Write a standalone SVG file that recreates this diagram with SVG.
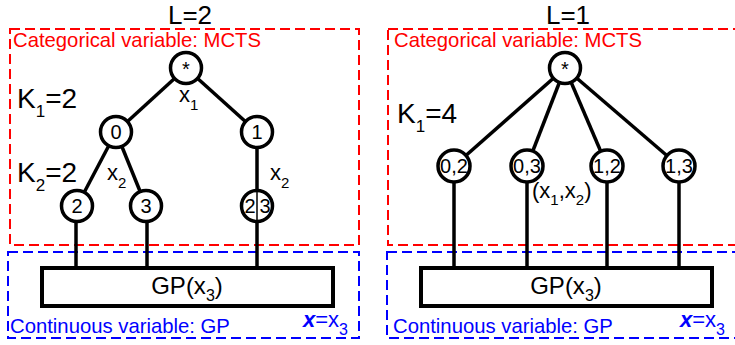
<svg xmlns="http://www.w3.org/2000/svg" width="735" height="345" viewBox="0 0 735 345">
<style>
text{font-family:"Liberation Sans",Arial,sans-serif;fill:#000}
.node{fill:#fff;stroke:#000;stroke-width:3.5}
.edge{stroke:#000;stroke-width:3.5;fill:none}
.gp{fill:#fff;stroke:#000;stroke-width:4}
.red{fill:none;stroke:#f00;stroke-width:2;stroke-dasharray:10 5}
.blue{fill:none;stroke:#00f;stroke-width:2;stroke-dasharray:10 5}
.rt{fill:#f00;font-size:20.3px}
.bt{fill:#00f;font-size:20.3px}
.nl{font-size:20px;text-anchor:middle}
.big{font-size:28px}
.ttl{font-size:26px;text-anchor:middle}
.lab{font-size:22px}
</style>
<rect width="735" height="345" fill="#fff"/>

<!-- region boxes -->
<g id="regions">
<rect class="red" x="10" y="29" width="349" height="216"/>
<rect class="blue" x="8" y="252" width="351" height="86"/>
<rect class="red" x="388" y="29" width="352" height="216"/>
<rect class="blue" x="387" y="252" width="353" height="86"/>
</g>

<!-- connectors -->
<g id="connectors">
<line class="edge" x1="186" y1="68" x2="116" y2="132"/>
<line class="edge" x1="186" y1="68" x2="257" y2="132"/>
<line class="edge" x1="116" y1="132" x2="77" y2="206"/>
<line class="edge" x1="116" y1="132" x2="146" y2="206"/>
<line class="edge" x1="257" y1="132" x2="257" y2="206"/>
<line class="edge" x1="76" y1="206" x2="76" y2="268"/>
<line class="edge" x1="147" y1="206" x2="147" y2="268"/>
<line class="edge" x1="257" y1="206" x2="257" y2="268"/>

<line class="edge" x1="565" y1="68" x2="454" y2="166"/>
<line class="edge" x1="565" y1="68" x2="527" y2="166"/>
<line class="edge" x1="565" y1="68" x2="607" y2="166"/>
<line class="edge" x1="565" y1="68" x2="679" y2="166"/>
<line class="edge" x1="454" y1="166" x2="454" y2="268"/>
<line class="edge" x1="527" y1="166" x2="527" y2="268"/>
<line class="edge" x1="607" y1="166" x2="607" y2="268"/>
<line class="edge" x1="679" y1="166" x2="679" y2="268"/>
</g>

<!-- left panel -->
<g id="title-left"><text class="ttl" x="190" y="23.5">L=2</text></g>
<g id="label-cat-left"><text class="rt" x="13" y="47">Categorical variable: MCTS</text></g>
<g id="label-k1-left"><text class="big" x="17" y="108">K<tspan font-size="17" dy="9">1</tspan><tspan dy="-9">=2</tspan></text></g>
<g id="label-k2-left"><text class="big" x="17" y="182">K<tspan font-size="17" dy="9">2</tspan><tspan dy="-9">=2</tspan></text></g>

<g id="node-root-left"><circle class="node" cx="186" cy="68" r="15.5"/><text class="nl" x="186" y="76">*</text></g>
<g id="node-0"><circle class="node" cx="116" cy="132" r="15.5"/><text class="nl" x="116" y="139">0</text></g>
<g id="node-1"><circle class="node" cx="257" cy="132" r="15.5"/><text class="nl" x="257" y="139">1</text></g>
<g id="node-2"><circle class="node" cx="77" cy="206" r="15.5"/><text class="nl" x="77" y="213">2</text></g>
<g id="node-3"><circle class="node" cx="146" cy="206" r="15.5"/><text class="nl" x="146" y="213">3</text></g>
<g id="node-23"><circle class="node" cx="257" cy="206" r="15.5"/><line x1="257" y1="191" x2="257" y2="221" stroke="#000" stroke-width="1.5"/><text class="nl" x="250" y="213">2</text><text class="nl" x="265" y="213">3</text></g>

<g id="edge-label-x1"><text class="lab" x="179" y="102">x<tspan font-size="15" dy="8">1</tspan></text></g>
<g id="edge-label-x2-left"><text class="lab" x="107" y="180">x<tspan font-size="15" dy="8">2</tspan></text></g>
<g id="edge-label-x2-right"><text class="lab" x="270" y="180">x<tspan font-size="15" dy="8">2</tspan></text></g>

<g id="gp-left"><rect class="gp" x="42" y="268" width="291" height="38"/><text x="187" y="294" font-size="24" text-anchor="middle">GP(x<tspan font-size="16" dy="7">3</tspan><tspan dy="-7">)</tspan></text></g>
<g id="label-cont-left"><text class="bt" x="10" y="333">Continuous variable: GP</text></g>
<g id="label-x-left"><text x="303" y="327" font-size="22" style="fill:#00f"><tspan font-weight="bold" font-style="italic">x</tspan>=x<tspan font-size="16" dy="8">3</tspan></text></g>

<!-- right panel -->
<g id="title-right"><text class="ttl" x="568" y="23.5">L=1</text></g>
<g id="label-cat-right"><text class="rt" x="394" y="47">Categorical variable: MCTS</text></g>
<g id="label-k1-right"><text class="big" x="397" y="123">K<tspan font-size="17" dy="9">1</tspan><tspan dy="-9">=4</tspan></text></g>

<g id="node-root-right"><circle class="node" cx="565" cy="68" r="15.5"/><text class="nl" x="565" y="76">*</text></g>
<g id="node-02"><circle class="node" cx="454" cy="166" r="16"/><text class="nl" x="454" y="173" font-size="19">0,2</text></g>
<g id="node-03"><circle class="node" cx="527" cy="166" r="16"/><text class="nl" x="527" y="173" font-size="19">0,3</text></g>
<g id="node-12"><circle class="node" cx="607" cy="166" r="16"/><text class="nl" x="607" y="173" font-size="19">1,2</text></g>
<g id="node-13"><circle class="node" cx="679" cy="166" r="16"/><text class="nl" x="679" y="173" font-size="19">1,3</text></g>

<g id="edge-label-x1x2"><text class="lab" x="532" y="198">(x<tspan font-size="15" dy="7">1</tspan><tspan dy="-7">,x</tspan><tspan font-size="15" dy="7">2</tspan><tspan dy="-7">)</tspan></text></g>

<g id="gp-right"><rect class="gp" x="421" y="268" width="291" height="38"/><text x="566" y="294" font-size="24" text-anchor="middle">GP(x<tspan font-size="16" dy="7">3</tspan><tspan dy="-7">)</tspan></text></g>
<g id="label-cont-right"><text class="bt" x="393" y="333">Continuous variable: GP</text></g>
<g id="label-x-right"><text x="680" y="327" font-size="22" style="fill:#00f"><tspan font-weight="bold" font-style="italic">x</tspan>=x<tspan font-size="16" dy="8">3</tspan></text></g>
</svg>
